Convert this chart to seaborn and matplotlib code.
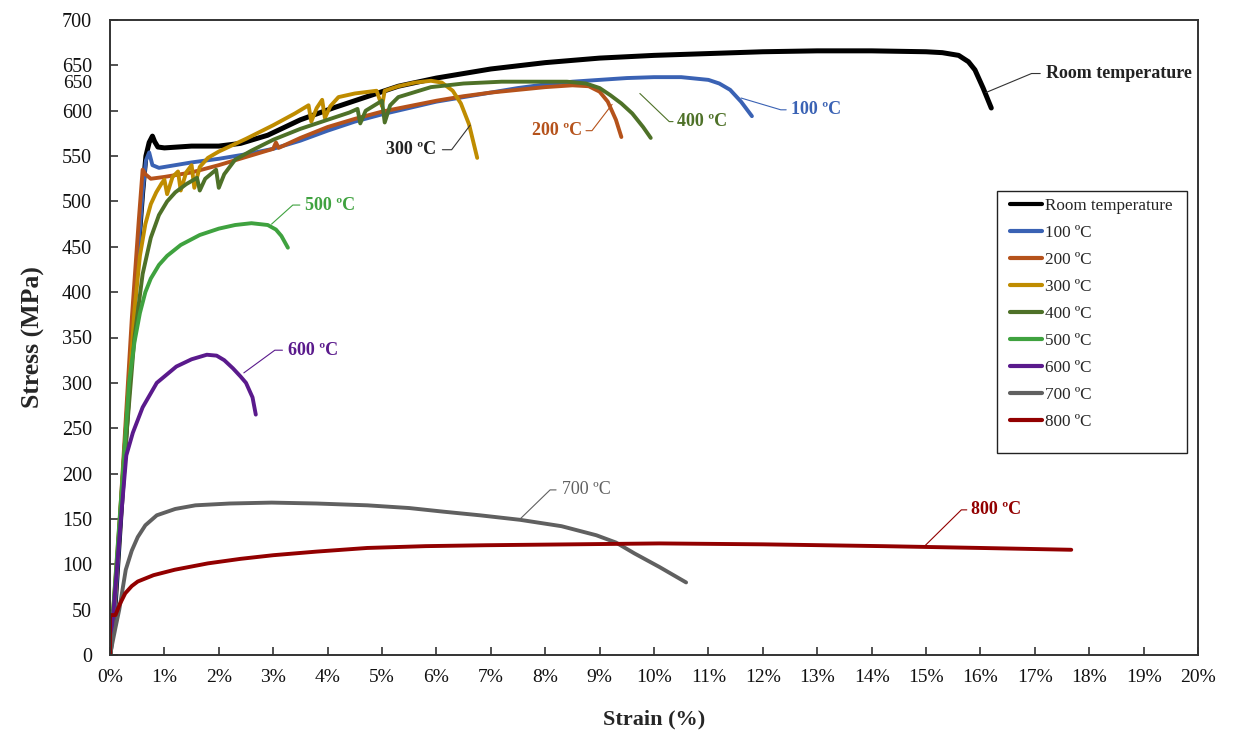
import numpy as np
import pandas as pd
import matplotlib
matplotlib.use("Agg")
import matplotlib.pyplot as plt
import matplotlib.transforms as mtransforms
from matplotlib.patches import Rectangle
import seaborn as sns

# ---- stress-strain data (strain in %, stress in MPa) ----
rt_strain = [0, 0.1, 0.45, 0.6, 0.66, 0.72, 0.78, 0.82, 0.88, 1.0, 1.5, 2.0, 2.4, 2.9, 3.5, 4.1, 4.7,
             5.3, 6.0, 7.0, 8.0, 9.0, 10.0, 11.0, 12.0, 13.0, 14.0, 15.0, 15.3, 15.6, 15.78, 15.9, 16.05, 16.2]
rt_stress = [0, 60, 390, 510, 550, 565, 572, 566, 560, 559, 561, 561, 564, 573, 590, 603, 615,
             627, 636, 646, 653, 658, 661, 663, 665, 666, 666, 665, 664, 661, 654, 645, 625, 603]

t100_strain = [0, 0.1, 0.45, 0.6, 0.66, 0.72, 0.78, 0.9, 1.2, 1.5, 2.0, 2.5, 3.0, 3.5, 4.0, 4.5, 5.0,
               5.5, 6.0, 6.5, 7.0, 7.5, 8.0, 8.5, 9.0, 9.5, 10.0, 10.5, 11.0, 11.2, 11.4, 11.6, 11.8]
t100_stress = [0, 60, 390, 510, 545, 554, 540, 537, 540, 543, 547, 552, 558, 567, 578, 588, 596,
               603, 610, 615, 620, 625, 629, 632, 634, 636, 637, 637, 634, 630, 623, 610, 594]

t200_strain = [0, 0.1, 0.4, 0.53, 0.6, 0.65, 0.75, 1.0, 1.5, 2.0, 2.5, 3.0, 3.05, 3.1, 3.5, 4.0, 4.5,
               5.0, 5.5, 6.0, 6.5, 7.0, 7.5, 8.0, 8.5, 8.8, 9.0, 9.15, 9.3, 9.4]
t200_stress = [0, 70, 370, 480, 535, 530, 525, 527, 532, 540, 549, 558, 565, 559, 570, 582, 591,
               599, 605, 611, 616, 620, 623, 626, 628, 627, 621, 610, 590, 571]

t300_strain = [0, 0.3, 0.45, 0.55, 0.65, 0.75, 0.85, 0.95, 1.0, 1.05, 1.15, 1.25, 1.3, 1.4, 1.5, 1.55,
               1.65, 1.8, 2.0, 2.5, 3.0, 3.4, 3.65, 3.7, 3.8, 3.9, 3.95, 4.05, 4.2, 4.5, 4.9, 5.0,
               5.05, 5.3, 5.6, 5.9, 6.1, 6.3, 6.45, 6.6, 6.75]
t300_stress = [0, 250, 380, 440, 475, 497, 510, 520, 524, 508, 527, 533, 512, 532, 540, 515,
               538, 548, 555, 569, 584, 597, 606, 588, 603, 612, 592, 605, 615, 619, 622, 605,
               622, 627, 631, 633, 631, 622, 608, 585, 548]

t400_strain = [0, 0.3, 0.45, 0.6, 0.75, 0.9, 1.05, 1.2, 1.4, 1.6, 1.65, 1.75, 1.95, 2.0, 2.1, 2.3,
               2.6, 3.0, 3.5, 4.0, 4.4, 4.55, 4.6, 4.7, 5.0, 5.05, 5.15, 5.3, 5.9, 6.5, 7.2, 8.0,
               8.4, 8.75, 9.0, 9.2, 9.4, 9.6, 9.8, 9.94]
t400_stress = [0, 240, 350, 420, 460, 485, 500, 510, 519, 526, 512, 525, 535, 515, 530, 546,
               556, 568, 580, 590, 598, 602, 586, 600, 611, 587, 606, 615, 626, 630, 632, 632,
               632, 630, 625, 617, 608, 597, 582, 570]

t500_strain = [0, 0.2, 0.35, 0.45, 0.55, 0.65, 0.75, 0.9, 1.05, 1.3, 1.65, 2.0, 2.3, 2.6, 2.9,
               3.05, 3.15, 3.27]
t500_stress = [0, 170, 300, 345, 377, 400, 415, 430, 440, 452, 463, 470, 474, 476, 474,
               469, 462, 449]

t600_strain = [0, 0.2, 0.3, 0.42, 0.6, 0.86, 1.22, 1.5, 1.78, 1.96, 2.1, 2.26, 2.4, 2.5, 2.62, 2.68]
t600_stress = [0, 150, 220, 245, 273, 300, 318, 326, 331, 330, 325, 316, 307, 300, 284, 265]

t700_strain = [0, 0.1, 0.17, 0.29, 0.4, 0.51, 0.65, 0.86, 1.2, 1.57, 2.2, 2.97, 3.8, 4.73, 5.5,
               6.13, 6.8, 7.54, 8.3, 8.94, 9.3, 9.64, 10.1, 10.59]
t700_stress = [0, 30, 50, 94, 115, 130, 143, 154, 161, 165, 167, 168, 167, 165, 162,
               158, 154, 149, 142, 132, 124, 112, 97, 80]

t800_strain = [0, 0, 0.1, 0.18, 0.28, 0.4, 0.51, 0.8, 1.19, 1.8, 2.4, 3.0, 3.8, 4.73, 5.8, 6.9,
               8.5, 10.1, 12.0, 14.2, 16.0, 17.67]
t800_stress = [0, 44, 44, 56, 68, 76, 81, 88, 94, 101, 106, 110, 114, 118, 120, 121,
               122, 123, 122, 120, 118, 116]

series_names = ["Room temperature", "100 ºC", "200 ºC", "300 ºC", "400 ºC",
                "500 ºC", "600 ºC", "700 ºC", "800 ºC"]
series_strain = [rt_strain, t100_strain, t200_strain, t300_strain, t400_strain,
                 t500_strain, t600_strain, t700_strain, t800_strain]
series_stress = [rt_stress, t100_stress, t200_stress, t300_stress, t400_stress,
                 t500_stress, t600_stress, t700_stress, t800_stress]

line_colors = ["#000000", "#3A62B4", "#B5521B", "#BF8C00", "#4E7128",
               "#3FA23F", "#5A1A8C", "#606060", "#920000"]
text_colors = ["#222222", "#3A62B4", "#B5521B", "#222222", "#4E7128",
               "#3FA23F", "#5A1A8C", "#606060", "#920000"]

x_ticks = list(range(0, 21))
y_ticks = list(range(0, 701, 50))

frames = []
for name, xs, ys in zip(series_names, series_strain, series_stress):
    frames.append(pd.DataFrame({"strain": xs, "stress": ys, "series": name}))
df = pd.concat(frames, ignore_index=True)

sns.set_theme(style="white")
plt.rcParams["font.family"] = ["Liberation Serif", "DejaVu Serif"]

W, H = 1233, 733
fig = plt.figure(figsize=(W / 100, H / 100), dpi=100)
ax = fig.add_axes([110 / W, 1 - 655 / H, 1088 / W, 635 / H])

for name, color in zip(series_names, line_colors):
    sub = df[df["series"] == name]
    lw = 3.6 if name == "Room temperature" else 2.8
    sns.lineplot(data=sub, x="strain", y="stress", sort=False, estimator=None,
                 color=color, linewidth=lw, label=name, ax=ax)

ax.set_xlim(0, 20)
ax.set_ylim(0, 700)
ax.set_xticks(x_ticks)
ax.set_xticklabels([f"{v}%" for v in x_ticks])
ax.set_yticks(y_ticks)
ax.tick_params(axis="both", direction="in", length=6, width=1.2, colors="#333333",
               left=True, bottom=True, top=False, right=False)
ax.tick_params(axis="x", labelsize=14, pad=10, labelcolor="#111111")
ax.tick_params(axis="y", labelsize=14.5, pad=13, labelcolor="#111111")
for sp in ax.spines.values():
    sp.set_color("#333333")
    sp.set_linewidth(1.4)

# secondary "650" label sitting just under the regular one
trans = mtransforms.blended_transform_factory(ax.transAxes, ax.transData)
ax.text(-0.0165, 630, "650", transform=trans, ha="right", va="center",
        fontsize=14, color="#111111")

ax.set_xlabel("Strain (%)", fontsize=16, fontweight="bold", labelpad=17)
ax.set_ylabel("Stress (MPa)", fontsize=18.5, fontweight="bold", labelpad=12)

# leader lines and labels for each curve
callouts = [
    # (curve point, elbow, end, text position, align, series index)
    ((16.1, 620), (16.94, 641), (17.1, 641), (17.2, 641), "left", 0),
    ((11.6, 614), (12.33, 601), (12.43, 601), (12.52, 601), "left", 1),
    ((9.23, 607), (8.86, 578), (8.75, 578), (8.68, 578), "right", 2),
    ((6.62, 584), (6.28, 557), (6.11, 557), (6.0, 557), "right", 3),
    ((9.74, 619), (10.28, 588), (10.35, 588), (10.42, 588), "left", 4),
    ((2.97, 475), (3.36, 496), (3.49, 496), (3.58, 496), "left", 5),
    ((2.46, 311), (3.03, 336), (3.17, 336), (3.27, 336), "left", 6),
    ((7.54, 150), (8.09, 182), (8.2, 182), (8.31, 182), "left", 7),
    ((14.99, 121), (15.65, 160), (15.75, 160), (15.83, 160), "left", 8),
]
for p0, p1, p2, pt, ha, idx in callouts:
    lc = "#333333" if idx in (0, 3) else line_colors[idx]
    ax.plot([p0[0], p1[0], p2[0]], [p0[1], p1[1], p2[1]], color=lc, linewidth=0.8)
    weight = "normal" if idx == 7 else "bold"
    ax.text(pt[0], pt[1], series_names[idx], ha=ha, va="center", fontsize=13,
            fontweight=weight, color=text_colors[idx])

# legend entries without their own frame; the box is drawn separately
leg = ax.legend(loc="upper left",
                bbox_to_anchor=((1010 - 110) / 1088, (655 - 198) / 635),
                fontsize=12.3, frameon=False, handlelength=1.9, handletextpad=0.15,
                labelspacing=0.645, borderpad=0, borderaxespad=0)
for h in leg.get_lines():
    h.set_linewidth(3.0)

box = Rectangle(((997 - 110) / 1088, (655 - 453) / 635), 190 / 1088, 262 / 635,
                transform=ax.transAxes, fill=False, edgecolor="#222222",
                linewidth=1.0, zorder=5)
ax.add_patch(box)

fig.savefig("out.png", dpi=100)
